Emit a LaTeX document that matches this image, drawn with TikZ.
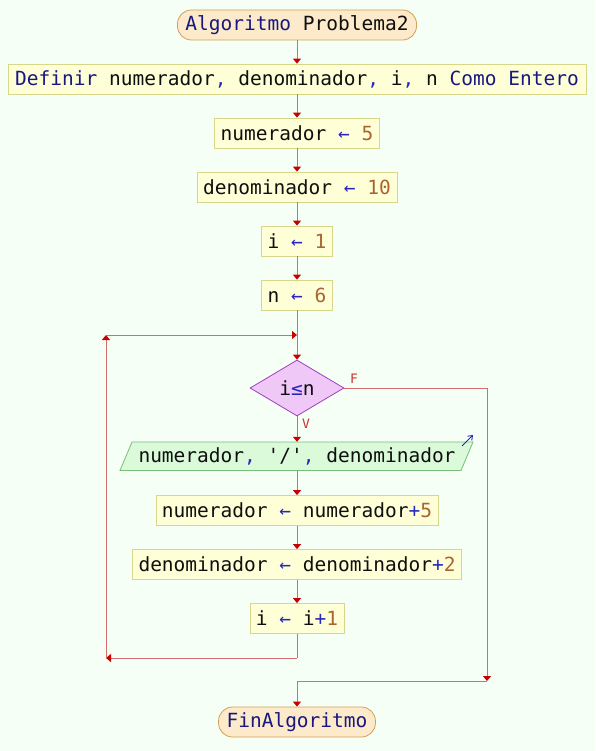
\documentclass[tikz,border=0pt]{standalone}
\usepackage{fontspec}
\setmonofont{DejaVu Sans Mono}
\usetikzlibrary{arrows.meta,shapes.geometric}
\definecolor{bg}{RGB}{245,255,245}
\definecolor{kwc}{RGB}{24,24,128}
\definecolor{opc}{RGB}{40,40,190}
\definecolor{numc}{RGB}{170,100,50}
\definecolor{idc}{RGB}{15,15,15}
\definecolor{linec}{RGB}{212,110,110}
\definecolor{tipc}{RGB}{200,0,0}
\definecolor{termfill}{RGB}{252,234,202}
\definecolor{termdraw}{RGB}{210,160,90}
\definecolor{procfill}{RGB}{255,255,215}
\definecolor{procdraw}{RGB}{215,215,140}
\definecolor{decfill}{RGB}{240,200,248}
\definecolor{decdraw}{RGB}{160,64,192}
\definecolor{iofill}{RGB}{218,250,218}
\definecolor{iodraw}{RGB}{120,190,120}
\definecolor{labc}{RGB}{200,50,50}
\newcommand{\kw}[1]{\textcolor{kwc}{#1}}
\newcommand{\op}[1]{\textcolor{opc}{#1}}
\newcommand{\nm}[1]{\textcolor{numc}{#1}}
\begin{document}
\begin{tikzpicture}[x=1pt,y=-1pt,
  every node/.style={font=\ttfamily\fontsize{19.5}{22}\selectfont, text=idc},
  term/.style={rectangle, rounded corners=14pt, fill=termfill, draw=termdraw, line width=0.8pt, minimum height=30pt, inner xsep=8pt, inner ysep=0pt},
  proc/.style={rectangle, fill=procfill, draw=procdraw, line width=0.8pt, minimum height=30pt, inner xsep=6pt, inner ysep=0pt},
  dec/.style={diamond, fill=decfill, draw=decdraw, line width=0.8pt, minimum width=94pt, minimum height=56pt, inner sep=0pt},
  conn/.style={draw=linec, line width=1pt, -{Triangle[length=5pt,width=8pt,color=tipc]}},
  plain/.style={draw=linec, line width=1pt},
  lab/.style={font=\ttfamily\fontsize{13}{15}\selectfont, text=labc}
]
\fill[bg] (0,0) rectangle (595,751);
\useasboundingbox (0,0) rectangle (595,751);

% parallelogram for output
\path[fill=iofill, draw=iodraw, line width=0.8pt] (132,442) -- (473,442) -- (461,470.5) -- (120,470.5) -- cycle;
\draw[draw=opc, line width=0.9pt, -{Straight Barb[length=4pt,width=6pt]}] (462,446) -- (473,435);

\node[term] (start) at (297,25) {\kw{Algoritmo} Problema2};
\node[proc, minimum width=578pt] (def) at (297,79) {\kw{Definir} numerador\op{,} denominador\op{,} i\op{,} n \kw{Como Entero}};
\node[proc] (a1) at (297,133) {numerador \op{←} \nm{5}};
\node[proc] (a2) at (297,187) {denominador \op{←} \nm{10}};
\node[proc] (a3) at (297,241) {i \op{←} \nm{1}};
\node[proc] (a4) at (297,295) {n \op{←} \nm{6}};
\node[dec] (cond) at (297,388) {i\op{≤}n};
\node[minimum height=28.5pt, inner sep=0pt] (out) at (297,456.25) {numerador\op{,} '/'\op{,} denominador};
\node[proc] (b1) at (297,510.5) {numerador \op{←} numerador\op{+}\nm{5}};
\node[proc] (b2) at (297,564.5) {denominador \op{←} denominador\op{+}\nm{2}};
\node[proc] (b3) at (297,618.5) {i \op{←} i\op{+}\nm{1}};
\node[term] (fin) at (297,722) {\kw{FinAlgoritmo}};

% connectors
\draw[conn] (start) -- (def);
\draw[conn] (def) -- (a1);
\draw[conn] (a1) -- (a2);
\draw[conn] (a2) -- (a3);
\draw[conn] (a3) -- (a4);
\coordinate (join) at (297,335);
\draw[plain] (a4) -- (join);
\draw[conn] (join) -- (cond.north);
\draw[conn] (cond.south) -- (out.north);
\node[lab] (vlab) at (306,424) {V};
\draw[conn] (out.south) -- (b1);
\draw[conn] (b1) -- (b2);
\draw[conn] (b2) -- (b3);

% loop back
\coordinate (lb1) at (297,658);
\coordinate (lb2) at (106,658);
\coordinate (lb3) at (106,335);
\draw[plain] (b3) -- (lb1);
\draw[conn] (lb1) -- (lb2);
\draw[conn] (lb2) -- (lb3);
\draw[conn] (lb3) -- (join);

% false branch
\node[lab] (flab) at (354,379) {F};
\coordinate (fr1) at (487,388);
\coordinate (fr2) at (487,681);
\coordinate (fr3) at (297,681);
\draw[plain] (cond.east) -- (fr1);
\draw[conn] (fr1) -- (fr2);
\draw[plain] (fr2) -- (fr3);
\draw[conn] (fr3) -- (fin);
\end{tikzpicture}
\end{document}
